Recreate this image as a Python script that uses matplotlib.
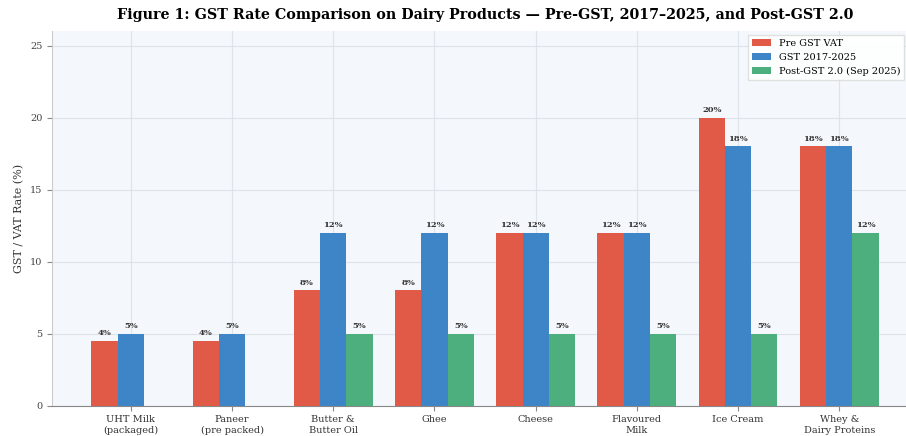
import numpy as np
import matplotlib
matplotlib.use('Agg')
import matplotlib.pyplot as plt

categories = ['UHT Milk\n(packaged)', 'Paneer\n(pre packed)', 'Butter &\nButter Oil',
              'Ghee', 'Cheese', 'Flavoured\nMilk', 'Ice Cream', 'Whey &\nDairy Proteins']
pre_gst_vat = [4.5, 4.5, 8, 8, 12, 12, 20, 18]
gst_2017 = [5, 5, 12, 12, 12, 12, 18, 18]
post_gst2 = [0, 0, 5, 5, 5, 5, 5, 12]
series_names = ['Pre GST VAT', 'GST 2017-2025', 'Post-GST 2.0 (Sep 2025)']

plt.rcParams['font.family'] = 'DejaVu Serif'

fig = plt.figure(figsize=(9.06, 4.36), dpi=100)
ax = fig.add_axes([0.0574, 0.0695, 0.956, 0.859])
ax.set_facecolor('#f4f8fc')

x = np.arange(len(categories))
w = 0.26
colors = ['#e05a47', '#3d85c6', '#4caf7d']
for i, (vals, name) in enumerate(zip([pre_gst_vat, gst_2017, post_gst2], series_names)):
    bars = ax.bar(x + (i - 1) * w, vals, w, color=colors[i], label=name, zorder=3)
    for b, v in zip(bars, vals):
        if v > 0:
            ax.text(b.get_x() + b.get_width() / 2, v + 0.25, f'{v:.0f}%',
                    ha='center', va='bottom', fontsize=6, fontweight='bold',
                    color='#333333', zorder=4)

ax.set_xticks(x)
ax.set_xticklabels(categories, fontsize=7, color='#333333')
ax.set_xlim(-0.78, 7.78)
ax.set_ylim(0, 26)
ax.set_yticks([0, 5, 10, 15, 20, 25])
ax.tick_params(axis='y', labelsize=7, labelcolor='#444444', color='#888888')
ax.tick_params(axis='x', color='#888888')
ax.set_ylabel('GST / VAT Rate (%)', fontsize=8, color='#333333')
ax.grid(True, color='#dde3ea', linewidth=0.8, zorder=0)
for s in ['top', 'right']:
    ax.spines[s].set_visible(False)
ax.spines['left'].set_color('#cccccc')
ax.spines['bottom'].set_color('#888888')

# keep the legend inside the figure edge
ax.legend(loc='upper right', fontsize=7, frameon=True, framealpha=0.9,
          edgecolor='#dddddd', fancybox=False,
          bbox_to_anchor=(0.998, 0.92), bbox_transform=fig.transFigure,
          borderaxespad=0)
ax.set_title('Figure 1: GST Rate Comparison on Dairy Products \u2014 Pre-GST, 2017\u20132025, and Post-GST 2.0',
             fontsize=10.3, fontweight='bold', pad=9)

fig.savefig('out.png', dpi=100)
